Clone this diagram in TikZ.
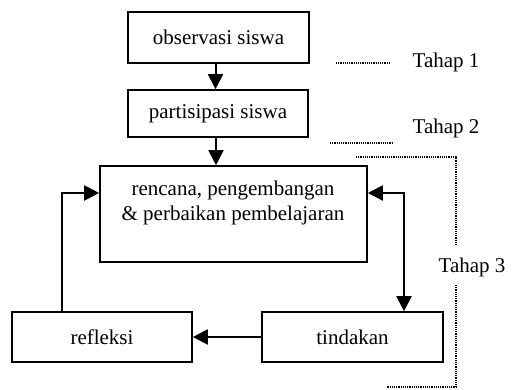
\documentclass[tikz,border=0pt]{standalone}
\usepackage{fontspec}
\setmainfont{Liberation Serif}
\usetikzlibrary{arrows.meta,calc}

\begin{document}
\begin{tikzpicture}[x=1pt,y=-1pt,
  box/.style={draw, line width=1.6pt, inner sep=0pt, align=center,
    font=\fontsize{21}{25}\selectfont},
  flow/.style={line width=2pt, -{Triangle[length=15pt,width=15pt]}},
  dots/.style={line width=1.3pt, dash pattern=on 1.2pt off 1pt},
  lbl/.style={inner sep=0pt, font=\fontsize{21}{25}\selectfont}]

\useasboundingbox (0,0) rectangle (513,390);

% process boxes
\node[box, minimum width=181pt, minimum height=51pt] (obs)  at (218.5,37.5) {observasi siswa};
\node[box, minimum width=180pt, minimum height=47pt] (part) at (218,113.5) {partisipasi siswa};
\node[box, minimum width=267pt, minimum height=96pt] (main) at (233.5,214) {};
\node[lbl, align=center] (maintxt) at (233,203) {rencana, pengembangan\\\& perbaikan pembelajaran};
\node[box, minimum width=180pt, minimum height=50pt] (refl) at (102,337) {refleksi};
\node[box, minimum width=181pt, minimum height=50pt] (tind) at (352.5,337) {tindakan};

% connectors
\draw[flow] ([xshift=-3pt]obs.south) -- ([xshift=-3pt]obs.south |- part.north);
\draw[flow] ([xshift=-2pt]part.south) -- ([xshift=-2pt]part.south |- main.north);
\draw[flow] ([xshift=-40pt]refl.north) |- ([yshift=21pt]main.west);
\draw[line width=2pt, {Triangle[length=15pt,width=15pt]}-{Triangle[length=15pt,width=15pt]}]
  ([yshift=21pt]main.east) -| ([xshift=51.5pt]tind.north);
\draw[flow] (tind.west) -- (refl.east);

% stage markers
\node[lbl] (t1) at (446,62) {Tahap 1};
\node[lbl] (t2) at (446,128) {Tahap 2};
\node[lbl] (t3) at (472,267) {Tahap 3};
\draw[dots] (336,63) -- (390,63);
\draw[dots] (330,143) -- (392,143);
\draw[dots] (356,157) -| (456,245);
\draw[dots] (456,285) |- (387,387);
\end{tikzpicture}
\end{document}
